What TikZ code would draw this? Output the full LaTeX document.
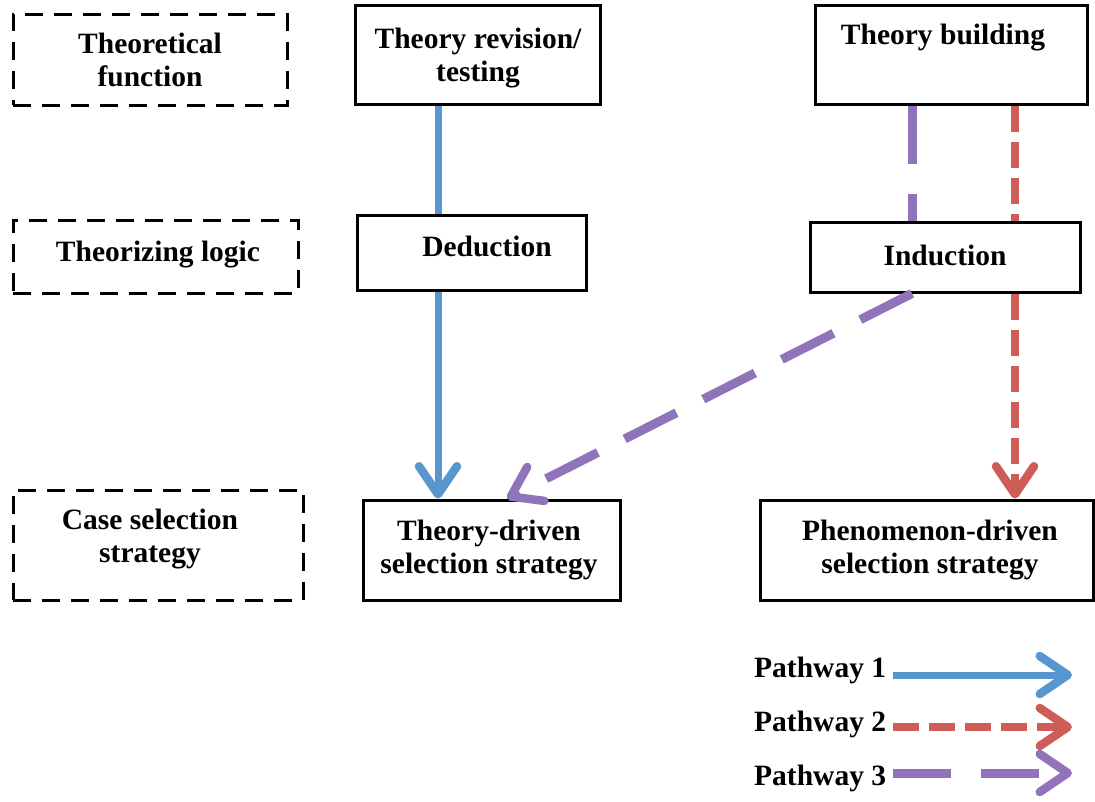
\documentclass[tikz,border=0pt]{standalone}
\usepackage{fontspec}
\setmainfont{Liberation Serif}
\usetikzlibrary{arrows.meta}
\definecolor{pblue}{RGB}{88,150,207}
\definecolor{pred}{RGB}{206,92,87}
\definecolor{ppurple}{RGB}{145,115,185}
\begin{document}
\begin{tikzpicture}[x=1pt,y=-1pt,
  solidbox/.style={draw=black,line width=3pt,inner sep=0pt},
  dashbox/.style={draw=black,line width=3pt,inner sep=0pt,dash pattern=on 18pt off 11pt},
  lbl/.style={font=\fontsize{29.5}{33}\selectfont\bfseries,align=center,inner sep=2pt},
  tip/.style={-{Straight Barb[length=28pt,width=38pt,line width=8.5pt,round]}},
  blueline/.style={draw=pblue,line width=7pt},
  redline/.style={draw=pred,line width=8.5pt,dash pattern=on 26pt off 10pt},
  purpleline/.style={draw=ppurple,line width=9pt,dash pattern=on 58pt off 30pt}]
\useasboundingbox (0,0) rectangle (1095,801);
% left category boxes
\node[dashbox,minimum width=274pt,minimum height=91pt] (c1) at (150,59.5) {};
\node[dashbox,minimum width=285pt,minimum height=73pt] (c2) at (155.5,256.5) {};
\node[dashbox,minimum width=290pt,minimum height=110pt] (c3) at (158,545) {};
\node[lbl] (c1t) at (150,60) {Theoretical\\function};
\node[lbl] (c2t) at (158,255) {Theorizing logic};
\node[lbl] (c3t) at (150,539) {Case selection\\strategy};
% main boxes
\node[solidbox,minimum width=245pt,minimum height=99pt] (tr) at (477.5,54.5) {};
\node[solidbox,minimum width=272pt,minimum height=99pt] (tb) at (951,54.5) {};
\node[solidbox,minimum width=229pt,minimum height=75pt] (ded) at (471.5,252.5) {};
\node[solidbox,minimum width=270pt,minimum height=70pt] (ind) at (945,257) {};
\node[solidbox,minimum width=257pt,minimum height=100pt] (tdr) at (491.5,550) {};
\node[solidbox,minimum width=333pt,minimum height=100pt] (phe) at (926.5,550) {};
\node[lbl] (trt) at (478,58) {Theory revision/\\testing};
\node[lbl] (tbt) at (943,38) {Theory building};
\node[lbl] (dedt) at (487,246) {Deduction};
\node[lbl] (indt) at (945,255) {Induction};
\node[lbl] (tdrt) at (489,550) {Theory-driven\\selection strategy};
\node[lbl] (phet) at (930,550) {Phenomenon-driven\\selection strategy};
% pathway x positions
\coordinate (bx) at (438,0);
\coordinate (px) at (912,0);
\coordinate (rx) at (1015,0);
\coordinate (ptip) at (507,0);
% pathway 1
\draw[blueline] (tr.south -| bx) -- (ded.north -| bx);
\draw[blueline,tip] (ded.south -| bx) -- (tdr.north -| bx);
% pathway 2
\draw[redline] (tb.south -| rx) -- (ind.north -| rx);
\draw[redline,tip] (ind.south -| rx) -- (phe.north -| rx);
% pathway 3
\draw[purpleline] (tb.south -| px) -- (ind.north -| px);
\draw[purpleline,tip] (ind.south -| px) -- (tdr.north -| ptip);
% legend
\node[lbl,anchor=west] (l1) at (752,670) {Pathway 1};
\node[lbl,anchor=west] (l2) at (752,724) {Pathway 2};
\node[lbl,anchor=west] (l3) at (752,778) {Pathway 3};
\coordinate (lend) at (1072,0);
\coordinate (l1s) at (893,675);
\coordinate (l2s) at (893,727);
\coordinate (l3s) at (893,773);
\draw[blueline,tip] (l1s) -- (l1s -| lend);
\draw[redline,tip] (l2s) -- (l2s -| lend);
\draw[purpleline,tip] (l3s) -- (l3s -| lend);
\end{tikzpicture}
\end{document}
